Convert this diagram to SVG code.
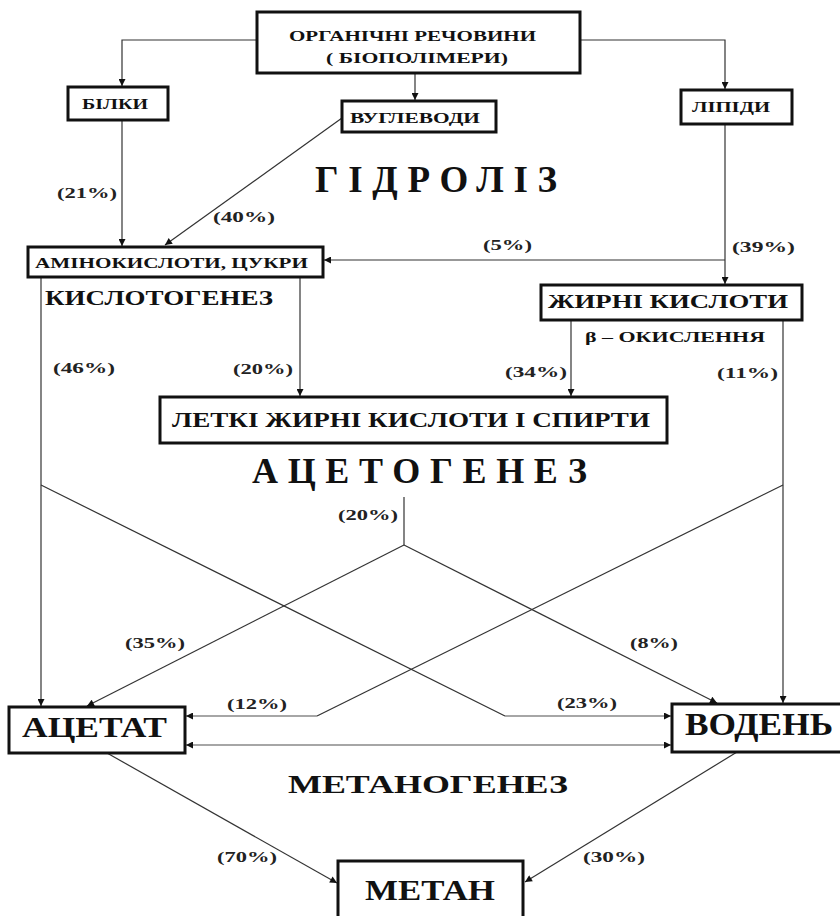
<svg xmlns="http://www.w3.org/2000/svg" width="840" height="916" viewBox="0 0 840 916">
<style>
.box{fill:#fff;stroke:#111;stroke-width:3}
.t{font-family:"Liberation Serif","DejaVu Serif",serif;font-weight:bold;fill:#111}
.lbl{font-family:"Liberation Serif","DejaVu Serif",serif;font-weight:bold;fill:#222;font-size:15px}
.c{fill:none;stroke:#333;stroke-width:1.2}
.h{fill:none;stroke:#888;stroke-width:1.5}
</style>
<defs>
<marker id="ah" viewBox="0 0 10 10" refX="10" refY="5" markerWidth="8" markerHeight="7" markerUnits="userSpaceOnUse" orient="auto-start-reverse">
<path d="M0,0 L10,5 L0,10 z" fill="#111"/>
</marker>
</defs>
<rect width="840" height="916" fill="#fff"/>

<g id="connectors">
<path class="c" d="M257,40 H122 V86" marker-end="url(#ah)"/>
<path class="c" d="M415,73 V100" marker-end="url(#ah)"/>
<path class="c" d="M580,40 H725 V89" marker-end="url(#ah)"/>
<path class="c" d="M122,120 V246" marker-end="url(#ah)"/>
<path class="c" d="M342,118 L165,245" marker-end="url(#ah)"/>
<path class="c" d="M725,124 V284" marker-end="url(#ah)"/>
<path class="c" d="M725,260 H324" marker-end="url(#ah)"/>
<path class="c" d="M41,277 V706" marker-end="url(#ah)"/>
<path class="c" d="M300,277 V396" marker-end="url(#ah)"/>
<path class="c" d="M571,320 V396" marker-end="url(#ah)"/>
<path class="c" d="M783,320 V703" marker-end="url(#ah)"/>
<path class="c" d="M404,497 V545"/>
<path class="c" d="M404,545 L87,706" marker-end="url(#ah)"/>
<path class="c" d="M404,545 L717,703" marker-end="url(#ah)"/>
<path class="c" d="M41,485 L505,716"/>
<path class="h" d="M505,716 H671" marker-end="url(#ah)"/>
<path class="c" d="M783,485 L317,716"/>
<path class="h" d="M317,716 H186" marker-end="url(#ah)"/>
<path class="h" d="M186,745 H671" marker-start="url(#ah)" marker-end="url(#ah)"/>
<path class="c" d="M107,753 L337,883" marker-end="url(#ah)"/>
<path class="c" d="M737,752 L525,882" marker-end="url(#ah)"/>
</g>

<g id="organic">
<rect class="box" x="257" y="12" width="323" height="61"/>
<text class="t" x="289" y="41" font-size="15" textLength="247" lengthAdjust="spacingAndGlyphs">ОРГАНІЧНІ РЕЧОВИНИ</text>
<text class="t" x="326" y="63" font-size="15" textLength="182" lengthAdjust="spacingAndGlyphs">( БІОПОЛІМЕРИ)</text>
</g>
<g id="bilky">
<rect class="box" x="68" y="87" width="100" height="33"/>
<text class="t" x="82" y="109" font-size="14" textLength="66" lengthAdjust="spacingAndGlyphs">БІЛКИ</text>
</g>
<g id="vuglevody">
<rect class="box" x="342" y="101" width="154" height="31"/>
<text class="t" x="350" y="123" font-size="14" textLength="130" lengthAdjust="spacingAndGlyphs">ВУГЛЕВОДИ</text>
</g>
<g id="lipidy">
<rect class="box" x="681" y="90" width="111" height="34"/>
<text class="t" x="692" y="112" font-size="15" textLength="78" lengthAdjust="spacingAndGlyphs">ЛІПІДИ</text>
</g>
<g id="aminokysloty">
<rect class="box" x="28" y="247" width="295" height="30"/>
<text class="t" x="35" y="268" font-size="15" textLength="273" lengthAdjust="spacingAndGlyphs">АМІНОКИСЛОТИ, ЦУКРИ</text>
</g>
<g id="zhyrni">
<rect class="box" x="541" y="285" width="261" height="35"/>
<text class="t" x="548" y="308" font-size="19" textLength="240" lengthAdjust="spacingAndGlyphs">ЖИРНІ КИСЛОТИ</text>
</g>
<g id="letki">
<rect class="box" x="160" y="397" width="507" height="46"/>
<text class="t" x="172" y="427" font-size="21" textLength="478" lengthAdjust="spacingAndGlyphs">ЛЕТКІ ЖИРНІ КИСЛОТИ І СПИРТИ</text>
</g>
<g id="acetat">
<rect class="box" x="9" y="707" width="176" height="46"/>
<text class="t" x="22" y="737" font-size="29" textLength="145" lengthAdjust="spacingAndGlyphs">АЦЕТАТ</text>
</g>
<g id="voden">
<rect class="box" x="672" y="704" width="180" height="48"/>
<text class="t" x="685" y="735" font-size="31" textLength="148" lengthAdjust="spacingAndGlyphs">ВОДЕНЬ</text>
</g>
<g id="metan">
<rect class="box" x="338" y="861" width="185" height="70"/>
<text class="t" x="365" y="900" font-size="29" textLength="130" lengthAdjust="spacingAndGlyphs">МЕТАН</text>
</g>

<g id="stages">
<text class="t" x="315" y="192" font-size="37" textLength="242" lengthAdjust="spacing">ГІДРОЛІЗ</text>
<text class="t" x="45" y="305" font-size="22" textLength="228" lengthAdjust="spacingAndGlyphs">КИСЛОТОГЕНЕЗ</text>
<text class="t" x="585" y="342" font-size="14" textLength="180" lengthAdjust="spacingAndGlyphs">β – ОКИСЛЕННЯ</text>
<text class="t" x="252" y="483" font-size="36" textLength="335" lengthAdjust="spacing">АЦЕТОГЕНЕЗ</text>
<text class="t" x="288" y="793" font-size="26" textLength="280" lengthAdjust="spacingAndGlyphs">МЕТАНОГЕНЕЗ</text>
</g>

<g id="labels">
<text class="lbl" x="57" y="198" textLength="60" lengthAdjust="spacingAndGlyphs">(21%)</text>
<text class="lbl" x="213" y="222" textLength="62" lengthAdjust="spacingAndGlyphs">(40%)</text>
<text class="lbl" x="483" y="250" textLength="49" lengthAdjust="spacingAndGlyphs">(5%)</text>
<text class="lbl" x="732" y="252" textLength="63" lengthAdjust="spacingAndGlyphs">(39%)</text>
<text class="lbl" x="53" y="373" textLength="62" lengthAdjust="spacingAndGlyphs">(46%)</text>
<text class="lbl" x="233" y="374" textLength="60" lengthAdjust="spacingAndGlyphs">(20%)</text>
<text class="lbl" x="505" y="377" textLength="62" lengthAdjust="spacingAndGlyphs">(34%)</text>
<text class="lbl" x="717" y="378" textLength="61" lengthAdjust="spacingAndGlyphs">(11%)</text>
<text class="lbl" x="338" y="520" textLength="60" lengthAdjust="spacingAndGlyphs">(20%)</text>
<text class="lbl" x="125" y="648" textLength="60" lengthAdjust="spacingAndGlyphs">(35%)</text>
<text class="lbl" x="630" y="648" textLength="48" lengthAdjust="spacingAndGlyphs">(8%)</text>
<text class="lbl" x="227" y="709" textLength="60" lengthAdjust="spacingAndGlyphs">(12%)</text>
<text class="lbl" x="557" y="708" textLength="60" lengthAdjust="spacingAndGlyphs">(23%)</text>
<text class="lbl" x="217" y="862" textLength="60" lengthAdjust="spacingAndGlyphs">(70%)</text>
<text class="lbl" x="583" y="862" textLength="62" lengthAdjust="spacingAndGlyphs">(30%)</text>
</g>
</svg>
